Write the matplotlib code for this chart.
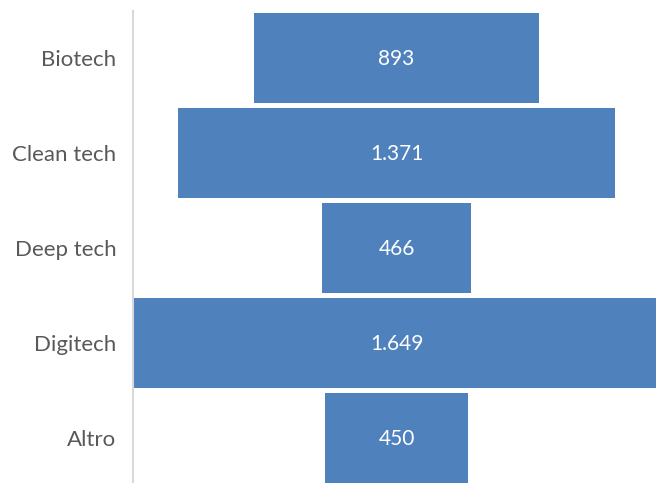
import matplotlib
matplotlib.use("Agg")
import matplotlib.pyplot as plt

categories = ["Biotech", "Clean tech", "Deep tech", "Digitech", "Altro"]
values = [893, 1371, 466, 1649, 450]
value_labels = ["893", "1.371", "466", "1.649", "450"]

bar_color = "#4f81bd"
text_color = "#595959"

W, H = 656, 483
fig = plt.figure(figsize=(W / 100, H / 100), dpi=100)
# axes placed in pixel coords: left 133, right 656, top 10.5, bottom 485.5
ax = fig.add_axes([133 / W, 1 - 485.5 / H, (656 - 133) / W, (485.5 - 10.5) / H])

pos = list(range(len(categories)))
lefts = [-v / 2 for v in values]
ax.barh(pos, values, left=lefts, height=0.95, color=bar_color)

for p, lab in zip(pos, value_labels):
    ax.text(0, p + 0.015, lab, ha="center", va="center", color="white",
            fontsize=15, family="Lato")

# the widest bar runs slightly past the right edge of the figure
ax.set_xlim(-826, 813)
ax.set_ylim(len(categories) - 0.5, -0.5)
ax.set_yticks(pos)
ax.set_yticklabels(categories, fontsize=16, family="Lato", color=text_color)
ax.tick_params(axis="y", length=0, pad=12)
ax.set_xticks([])

for s in ["top", "right", "bottom"]:
    ax.spines[s].set_visible(False)
ax.spines["left"].set_color("#d9d9d9")
ax.spines["left"].set_linewidth(1.5)
ax.spines["left"].set_zorder(3)

fig.savefig("out.png", dpi=100)
